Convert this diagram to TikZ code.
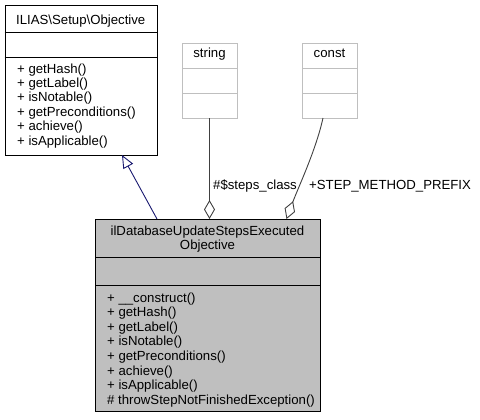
\documentclass[tikz,border=0pt]{standalone}
\usepackage{fontspec}
\setmainfont{Liberation Sans}
\usetikzlibrary{arrows.meta}
\definecolor{boxgray}{HTML}{BFBFBF}
\definecolor{inhblue}{HTML}{191970}
\definecolor{aggray}{HTML}{404040}
\begin{document}
\begin{tikzpicture}[x=1bp,y=-1bp,
  every node/.style={font=\fontsize{13.2bp}{14.6bp}\selectfont, inner sep=0pt},
  box/.style={draw, anchor=north west, line width=1bp},
  lbox/.style={draw=boxgray, fill=white, anchor=north west, line width=1bp},
  line/.style={anchor=base west},
  ttl/.style={anchor=base}]
\useasboundingbox (0,0) rectangle (480,419);
% Objective
\node[box, minimum width=152.5bp, minimum height=150.5bp] (obj) at (4.5,4.5) {};
\draw[line width=1bp] (4.5,32) -- (157,32) (4.5,57) -- (157,57);
\node[ttl] (objt) at (80.75,24.5) {ILIAS\textbackslash Setup\textbackslash Objective};
\foreach \t [count=\i] in {+ getHash(), + getLabel(), + isNotable(), + getPreconditions(), + achieve(), + isApplicable()}
  \node[line] (objm\i) at (17,{73+14.4*(\i-1)}) {\t};
% string
\node[lbox, minimum width=55bp, minimum height=75bp] (str) at (182,43) {};
\draw[boxgray, line width=1bp] (182,68) -- (237,68) (182,93) -- (237,93);
\node[ttl] (strt) at (209.5,57) {string};
% const
\node[lbox, minimum width=55bp, minimum height=75bp] (cst) at (302,43) {};
\draw[boxgray, line width=1bp] (302,68) -- (357,68) (302,93) -- (357,93);
\node[ttl] (cstt) at (329.5,57) {const};
% main
\node[box, fill=boxgray, minimum width=225bp, minimum height=192bp] (main) at (95,219) {};
\draw[line width=1bp] (95,257) -- (320,257) (95,285) -- (320,285);
\node[ttl] (mt1) at (207.5,235) {ilDatabaseUpdateStepsExecuted};
\node[ttl] (mt2) at (207.5,249.5) {Objective};
\foreach \t [count=\i] in {+ \_\_construct(), + getHash(), + getLabel(), + isNotable(), + getPreconditions(), + achieve(), + isApplicable(), \# throwStepNotFinishedException()}
  \node[line] (mm\i) at (107,{302+14.6*(\i-1)}) {\t};
% connectors
\coordinate (inhs) at (157,219);
\coordinate (inhe) at (122,155);
\draw[inhblue, line width=0.9bp, -{Triangle[open, length=13bp, width=11bp]}] (inhs) -- (inhe);
\coordinate (ag1s) at (209.5,219);
\coordinate (ag1e) at (209.5,118);
\draw[aggray, line width=0.9bp, {Diamond[open, length=19bp, width=11bp]}-] (ag1s) -- (ag1e);
\coordinate (ag2s) at (286.5,219);
\coordinate (ag2e) at (323,118);
\draw[aggray, line width=0.9bp, {Diamond[open, length=19bp, width=11bp]}-] (ag2s) .. controls (298,188) and (316,150) .. (ag2e);
\node[anchor=base west] (l1) at (213,189) {\#\$steps\_class};
\node[anchor=base west] (l2) at (309,189) {+STEP\_METHOD\_PREFIX};
\end{tikzpicture}
\end{document}
